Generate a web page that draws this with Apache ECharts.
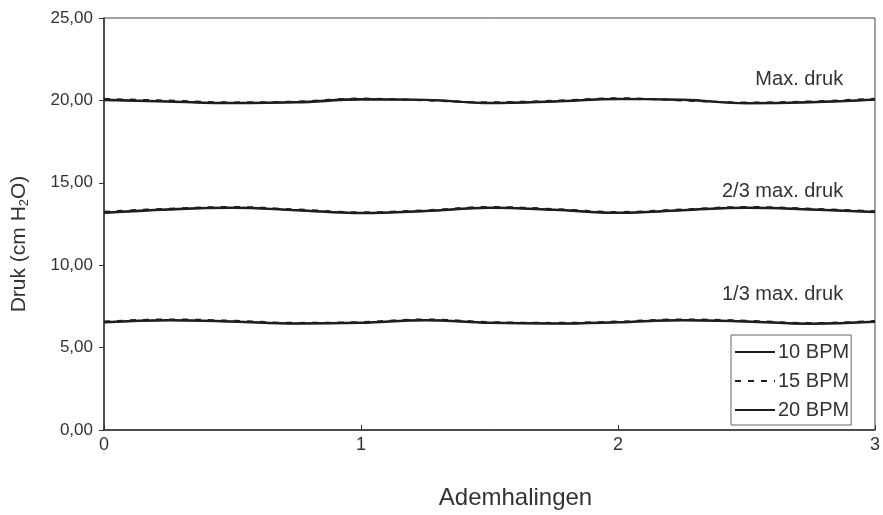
<!DOCTYPE html>
<html>
<head>
<meta charset="utf-8">
<script src="https://cdn.jsdelivr.net/npm/echarts@6/dist/echarts.min.js"></script>
<style>
  html, body { margin: 0; padding: 0; background: #fff; }
  #main { width: 883px; height: 515px; }
</style>
</head>
<body>
<div id="main"></div>
<script>
// ademhalingen (x-as)
var xs = [0, 0.25, 0.5, 0.75, 1, 1.25, 1.5, 1.75, 2, 2.25, 2.5, 2.75, 3];

// Max. druk
var max10 = [20.05, 19.95, 19.85, 19.9, 20.08, 20.02, 19.86, 19.95, 20.1, 20.02, 19.84, 19.9, 20.07];
var max15 = [20.09, 19.99, 19.88, 19.93, 20.11, 20.0, 19.89, 19.98, 20.13, 20.0, 19.87, 19.94, 20.1];
var max20 = [20.01, 19.92, 19.82, 19.87, 20.04, 20.04, 19.83, 19.92, 20.07, 20.05, 19.81, 19.87, 20.04];

// 2/3 max. druk
var twee10 = [13.2, 13.4, 13.5, 13.35, 13.18, 13.3, 13.5, 13.38, 13.2, 13.35, 13.5, 13.4, 13.25];
var twee15 = [13.24, 13.43, 13.53, 13.38, 13.21, 13.33, 13.53, 13.41, 13.23, 13.38, 13.53, 13.43, 13.28];
var twee20 = [13.16, 13.37, 13.47, 13.32, 13.15, 13.27, 13.47, 13.35, 13.17, 13.32, 13.47, 13.37, 13.22];

// 1/3 max. druk
var een10 = [6.55, 6.68, 6.6, 6.47, 6.52, 6.68, 6.52, 6.47, 6.55, 6.68, 6.6, 6.46, 6.58];
var een15 = [6.58, 6.71, 6.63, 6.5, 6.55, 6.71, 6.55, 6.5, 6.58, 6.71, 6.63, 6.49, 6.61];
var een20 = [6.52, 6.65, 6.57, 6.44, 6.49, 6.65, 6.49, 6.44, 6.52, 6.65, 6.57, 6.43, 6.55];

var reeksen = ['10 BPM', '15 BPM', '20 BPM'];
var niveauLabels = ['Max. druk', '2/3 max. druk', '1/3 max. druk'];
var labelPos = [[2.88, 21.26], [2.88, 14.49], [2.88, 8.21]];

var yTicks = { min: 0, max: 25, interval: 5 };
var xTicks = { min: 0, max: 3, interval: 1 };

var font = '"Liberation Sans", Arial, sans-serif';
var tekstKleur = '#333';

function paren(ys) {
    var out = [];
    for (var i = 0; i < xs.length; i++) {
        out.push([xs[i], ys[i]]);
    }
    return out;
}

var groepen = [
    [max10, max15, max20],
    [twee10, twee15, twee20],
    [een10, een15, een20]
];

var series = [];
for (var g = 0; g < groepen.length; g++) {
    for (var s = 0; s < reeksen.length; s++) {
        var serie = {
            name: reeksen[s],
            type: 'line',
            smooth: 0.4,
            symbol: 'none',
            silent: true,
            data: paren(groepen[g][s]),
            lineStyle: {
                color: '#1e1e1e',
                width: 2,
                type: s == 1 ? [6, 7] : 'solid'
            },
            itemStyle: { color: '#1e1e1e' },
            z: 3
        };
        if (s == 0) {
            // tekst bij elk drukniveau
            serie.markPoint = {
                symbol: 'circle',
                symbolSize: 2,
                silent: true,
                itemStyle: { color: 'rgba(0,0,0,0)' },
                data: [{ coord: labelPos[g], name: niveauLabels[g] }],
                label: {
                    show: true,
                    formatter: niveauLabels[g],
                    position: 'left',
                    distance: 0,
                    color: tekstKleur,
                    fontFamily: font,
                    fontSize: 20
                }
            };
        }
        series.push(serie);
    }
}

var myChart = echarts.init(document.getElementById('main'));
myChart.setOption({
    animation: false,
    textStyle: { fontFamily: font },
    grid: {
        left: 104,
        right: 7,
        top: 18,
        bottom: 83,
        show: true,
        borderColor: '#444',
        borderWidth: 1
    },
    legend: {
        data: reeksen,
        orient: 'vertical',
        left: 731,
        top: 335,
        itemWidth: 40,
        itemHeight: 16,
        itemGap: 9,
        padding: [7, 2, 5, 3],
        borderColor: '#666',
        borderWidth: 1,
        selectedMode: false,
        itemStyle: { opacity: 0 },
        textStyle: { color: tekstKleur, fontSize: 20, fontFamily: font, padding: [0, 0, 0, -2] }
    },
    xAxis: {
        type: 'value',
        min: xTicks.min,
        max: xTicks.max,
        interval: xTicks.interval,
        name: 'Ademhalingen',
        nameLocation: 'middle',
        nameGap: 56,
        nameTextStyle: { color: tekstKleur, fontSize: 24, padding: [0, 0, 0, 52] },
        axisLine: { show: true, onZero: false, lineStyle: { color: '#333', width: 1.5 } },
        axisTick: { show: true, inside: true, length: 5, lineStyle: { color: '#333' } },
        axisLabel: { color: tekstKleur, fontSize: 18, margin: 6 },
        splitLine: { show: false }
    },
    yAxis: {
        type: 'value',
        min: yTicks.min,
        max: yTicks.max,
        interval: yTicks.interval,
        name: 'Druk (cm H{sub|2}O)',
        nameLocation: 'middle',
        nameGap: 73,
        nameRotate: 90,
        nameTextStyle: {
            color: tekstKleur,
            fontSize: 21,
            padding: [0, 40, 0, 0],
            rich: {
                sub: { fontSize: 13, color: tekstKleur, verticalAlign: 'bottom', padding: [10, 0, 0, 0] }
            }
        },
        axisLine: { show: true, lineStyle: { color: '#333', width: 1.5 } },
        axisTick: { show: true, inside: false, length: 5, lineStyle: { color: '#333' } },
        axisLabel: {
            color: tekstKleur,
            fontSize: 17,
            margin: 11,
            formatter: function (v) { return v.toFixed(2).replace('.', ','); }
        },
        splitLine: { show: false }
    },
    series: series
});
</script>
</body>
</html>
